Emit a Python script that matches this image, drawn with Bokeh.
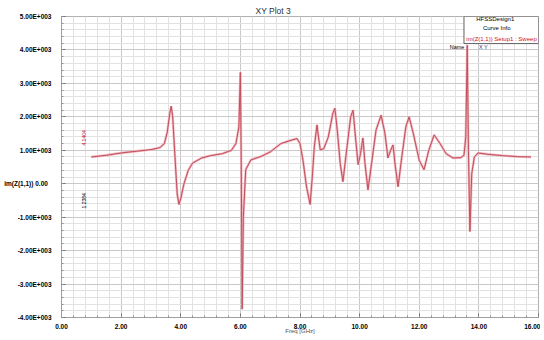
from bokeh.plotting import figure
from bokeh.models import SingleIntervalTicker, Label, Range1d
from bokeh.embed import file_html
from bokeh.resources import INLINE

# ---- data ----
freq_ghz = [1.00, 1.50, 2.00, 2.50, 3.00, 3.30, 3.45, 3.55, 3.63, 3.68, 3.73, 3.80, 3.88, 3.94,
            4.00, 4.10, 4.25, 4.40, 4.70, 5.00, 5.40, 5.70, 5.85, 5.95, 6.00, 6.03, 6.06, 6.10,
            6.18, 6.35, 6.70, 7.00, 7.36, 7.70, 7.90, 8.00, 8.10, 8.22, 8.34, 8.42, 8.48, 8.57,
            8.62, 8.68, 8.80, 8.95, 9.10, 9.17, 9.25, 9.35, 9.44, 9.55, 9.70, 9.78, 9.86, 9.95,
            10.03, 10.11, 10.18, 10.28, 10.40, 10.55, 10.72, 10.85, 10.95, 11.04, 11.12, 11.20,
            11.29, 11.40, 11.55, 11.66, 11.80, 12.00, 12.16, 12.32, 12.50, 12.70, 12.90, 13.13,
            13.40, 13.50, 13.56, 13.61, 13.65, 13.70, 13.76, 13.85, 13.97, 14.30, 14.80, 15.30, 15.75]
im_z = [800, 850, 920, 970, 1020, 1080, 1200, 1550, 2100, 2320, 2000, 900, -300, -620,
        -450, -30, 400, 620, 770, 840, 900, 1000, 1200, 1700, 3330, 500, -3750, -1000,
        420, 710, 820, 950, 1200, 1300, 1350, 1200, 700, -100, -620, 300, 1100, 1760,
        1400, 1010, 1050, 1400, 2100, 2260, 1600, 600, 60, 900, 2000, 2200, 1400, 570,
        900, 1370, 600, -180, 600, 1600, 2050, 1500, 770, 1000, 1160, 500,
        -90, 700, 1700, 2000, 1500, 700, 420, 1000, 1460, 1200, 900, 770,
        780, 850, 1400, 4140, 1000, -1430, 300, 800, 920, 880, 840, 810, 800]

x_ticks = [0, 2, 4, 6, 8, 10, 12, 14, 16]
y_ticks = [-4000, -3000, -2000, -1000, 0, 1000, 2000, 3000, 4000, 5000]
y_tick_labels = ["-4.00E+003", "-3.00E+003", "-2.00E+003", "-1.00E+003", "im(Z(1,1))   0.00",
                 "1.00E+003", "2.00E+003", "3.00E+003", "4.00E+003", "5.00E+003"]
x_tick_labels = ["0.00", "2.00", "4.00", "6.00", "8.00", "10.00", "12.00", "14.00", "16.00"]

FONT = "Liberation Sans"

p = figure(width=540, height=336, output_backend="svg", toolbar_location=None,
           title="XY Plot 3", x_range=Range1d(0, 16), y_range=Range1d(-4000, 5000),
           min_border_left=61, min_border_right=2, min_border_top=16, min_border_bottom=18)
p.background_fill_color = "white"
p.border_fill_color = "white"
p.outline_line_color = "#b0b0b0"

p.title.text_font = FONT
p.title.text_font_size = "8.5px"
p.title.text_font_style = "normal"
p.title.text_color = "#303030"
p.title.align = "left"
p.title.offset = 194
p.title.standoff = 1

p.xaxis.ticker = SingleIntervalTicker(interval=2, num_minor_ticks=5)
p.yaxis.ticker = SingleIntervalTicker(interval=1000, num_minor_ticks=5)
p.xaxis.major_label_overrides = {t: l for t, l in zip(x_ticks, x_tick_labels)}
p.yaxis.major_label_overrides = {t: l for t, l in zip(y_ticks, y_tick_labels)}

for ax in (p.xaxis, p.yaxis):
    ax.axis_line_color = "#a0a0a0"
    ax.major_tick_in = 4
    ax.major_tick_out = 0
    ax.minor_tick_in = 2
    ax.minor_tick_out = 0
    ax.major_tick_line_color = "#707070"
    ax.minor_tick_line_color = "#909090"
    ax.major_label_text_font = FONT
    ax.major_label_text_font_size = "6.5px"
    ax.major_label_text_color = "black"
    ax.major_label_text_font_style = "bold"
p.yaxis.major_label_standoff = 10
p.yaxis.major_label_text_baseline = "top"
p.xaxis.major_label_standoff = 6

p.xaxis.axis_label = "Freq [GHz]"
p.xaxis.axis_label_text_font = FONT
p.xaxis.axis_label_text_font_size = "6px"
p.xaxis.axis_label_text_font_style = "normal"
p.xaxis.axis_label_text_color = "#505050"
p.xaxis.axis_label_standoff = -4

p.xgrid.grid_line_color = "#c8c8c8"
p.ygrid.grid_line_color = "#c8c8c8"
p.xgrid.minor_grid_line_color = "#e2e2e2"
p.ygrid.minor_grid_line_color = "#e2e2e2"

# curve
p.line(freq_ghz, im_z, line_color="#f0b4bc", line_width=2.4)
p.line(freq_ghz, im_z, line_color="#c24f5c", line_width=1.0)

# legend box (HFSS style)
p.quad(left=[13.5], right=[16.0], top=[5000], bottom=[4190], fill_color="white",
       line_color="#606060", line_width=1)
p.add_layout(Label(x=14.55, y=4940, text="HFSSDesign1", text_font=FONT, text_font_size="6px",
                   text_align="center", text_baseline="middle", text_color="black"))
p.add_layout(Label(x=14.6, y=4670, text="Curve Info", text_font=FONT, text_font_size="6px",
                   text_align="center", text_baseline="middle", text_color="black"))
p.add_layout(Label(x=14.76, y=4340, text="im(Z(1,1)) Setup1 : Sweep", text_font=FONT,
                   text_font_size="6px", text_align="center", text_baseline="middle",
                   text_color="#d01020"))
p.add_layout(Label(x=13.02, y=4100, text="Name", text_font=FONT, text_font_size="5.5px",
                   text_align="left", text_baseline="middle", text_color="black"))
p.add_layout(Label(x=14.0, y=4100, text="X      Y", text_font=FONT, text_font_size="5.5px",
                   text_align="left", text_baseline="middle", text_color="#303060"))

# marker texts (vertical)
p.add_layout(Label(x=0.75, y=1370, text="4.1404", angle=90, angle_units="deg", text_font=FONT,
                   text_font_size="5px", text_align="center", text_baseline="middle",
                   text_color="#c01020"))
p.add_layout(Label(x=0.75, y=-510, text="1.2384", angle=90, angle_units="deg", text_font=FONT,
                   text_font_size="5px", text_align="center", text_baseline="middle",
                   text_color="black"))

open("out.html", "w").write(file_html(p, INLINE))
